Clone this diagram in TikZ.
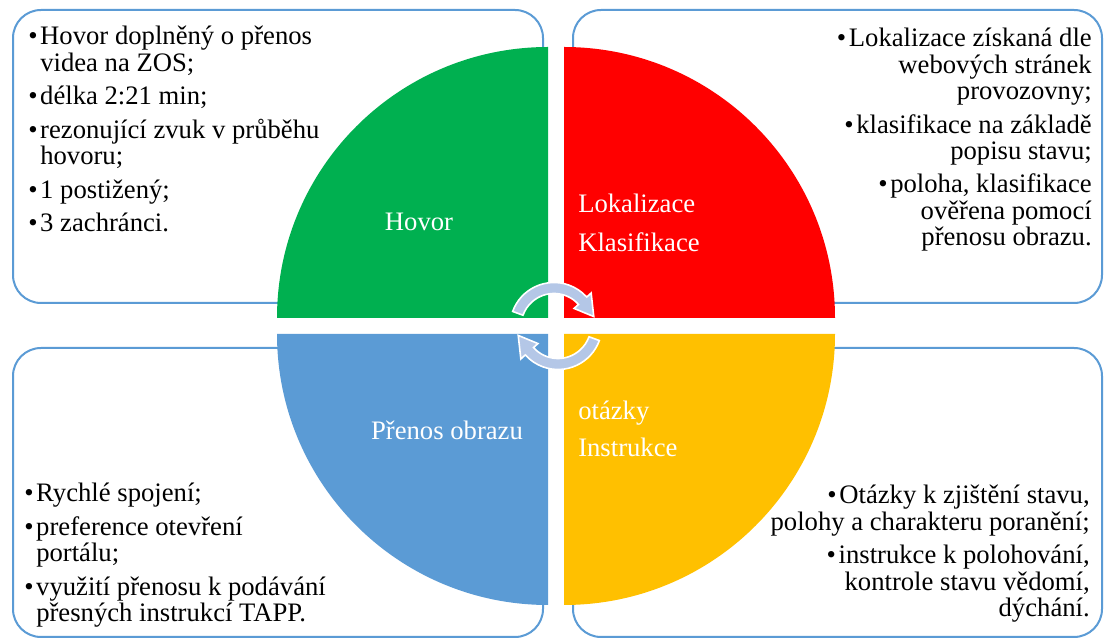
\documentclass[tikz,border=0pt]{standalone}
\usepackage{fontspec}
\setmainfont{Liberation Serif}
\definecolor{qgreen}{HTML}{00B050}
\definecolor{qred}{HTML}{FF0000}
\definecolor{qblue}{HTML}{5B9BD5}
\definecolor{qyellow}{HTML}{FFC000}
\definecolor{frame}{HTML}{5B9BD5}
\definecolor{cyc}{HTML}{B4C7E7}
\newcommand\bul{\makebox[9pt][l]{\textbullet}}
\tikzset{
  infobox/.style={draw=frame, line width=1.5pt, fill=white, rounded corners=21pt},
  txt/.style={font=\fontsize{20}{20}\selectfont, inner sep=0pt, text=black},
  lbl/.style={font=\fontsize{20}{20}\selectfont, inner sep=0pt, text=white},
  cycarrow/.style={fill=cyc, draw=white, line width=1.2pt, line join=miter},
}
% one curved arrow of the centre cycle, drawn around the origin
\newcommand\cycpath{%
  (160:44) arc[start angle=160, end angle=42, radius=44]
  -- (42:50) -- (14:41) -- (42:27) -- (42:33)
  arc[start angle=42, end angle=160, radius=33] -- cycle}
\begin{document}
\begin{tikzpicture}[x=0.75pt, y=0.75pt]
\useasboundingbox (0,0) rectangle (1104,639);

% text boxes behind the quadrants
\draw[infobox] (13,336) rectangle (543,629);
\draw[infobox] (573,336) rectangle (1102,629);
\draw[infobox] (13,2) rectangle (543,291);
\draw[infobox] (573,2) rectangle (1102,291);

% quadrants
\fill[qgreen] (548,321) -- ++(0,271) arc[start angle=90, end angle=180, radius=271] -- cycle;
\fill[qred] (564,321) -- ++(271,0) arc[start angle=0, end angle=90, radius=271] -- cycle;
\fill[qblue] (548,305) -- ++(-271,0) arc[start angle=180, end angle=270, radius=271] -- cycle;
\fill[qyellow] (564,305) -- ++(0,-271) arc[start angle=270, end angle=360, radius=271] -- cycle;

% cycle arrows
\begin{scope}[shift={(554,312.5)}]
  \filldraw[cycarrow] \cycpath;
\end{scope}
\begin{scope}[shift={(558,313.5)}, rotate=180]
  \filldraw[cycarrow] \cycpath;
\end{scope}

% quadrant labels
\node[lbl, anchor=base] (lhovor) at (419,408) {Hovor};
\node[lbl, anchor=base west] (llok) at (578,426) {Lokalizace};
\node[lbl, anchor=base west] (lkla) at (578,387) {Klasifikace};
\node[lbl, anchor=base] (lpre) at (447,199) {Přenos obrazu};
\node[lbl, anchor=base west] (lota) at (578,219) {otázky};
\node[lbl, anchor=base west] (lins) at (578,182) {Instrukce};

% top left list
\node[txt, anchor=base west] (a1) at (28,594) {\bul Hovor doplněný o přenos};
\node[txt, anchor=base west] (a2) at (40,567.7) {videa na ZOS;};
\node[txt, anchor=base west] (a3) at (28,534.2) {\bul délka 2:21 min;};
\node[txt, anchor=base west] (a4) at (28,500.7) {\bul rezonující zvuk v průběhu};
\node[txt, anchor=base west] (a5) at (40,474.4) {hovoru;};
\node[txt, anchor=base west] (a6) at (28,440.9) {\bul 1 postižený;};
\node[txt, anchor=base west] (a7) at (28,407.4) {\bul 3 zachránci.};

% top right list
\node[txt, anchor=base east] (b1) at (1092,592) {\bul Lokalizace získaná dle};
\node[txt, anchor=base east] (b2) at (1092,565.7) {webových stránek};
\node[txt, anchor=base east] (b3) at (1092,539.4) {provozovny;};
\node[txt, anchor=base east] (b4) at (1092,505.9) {\bul klasifikace na základě};
\node[txt, anchor=base east] (b5) at (1092,479.6) {popisu stavu;};
\node[txt, anchor=base east] (b6) at (1092,446.1) {\bul poloha, klasifikace};
\node[txt, anchor=base east] (b7) at (1092,419.8) {ověřena pomocí};
\node[txt, anchor=base east] (b8) at (1092,393.5) {přenosu obrazu.};

% bottom left list
\node[txt, anchor=base west] (c1) at (24,137) {\bul Rychlé spojení;};
\node[txt, anchor=base west] (c2) at (24,103.5) {\bul preference otevření};
\node[txt, anchor=base west] (c3) at (36,77.2) {portálu;};
\node[txt, anchor=base west] (c4) at (24,43.7) {\bul využití přenosu k podávání};
\node[txt, anchor=base west] (c5) at (36,17.4) {přesných instrukcí TAPP.};

% bottom right list
\node[txt, anchor=base east] (d1) at (1090,135) {\bul Otázky k zjištění stavu,};
\node[txt, anchor=base east] (d2) at (1090,108.7) {polohy a charakteru poranění;};
\node[txt, anchor=base east] (d3) at (1090,75.2) {\bul instrukce k polohování,};
\node[txt, anchor=base east] (d4) at (1090,48.9) {kontrole stavu vědomí,};
\node[txt, anchor=base east] (d5) at (1090,22.6) {dýchání.};
\end{tikzpicture}
\end{document}
